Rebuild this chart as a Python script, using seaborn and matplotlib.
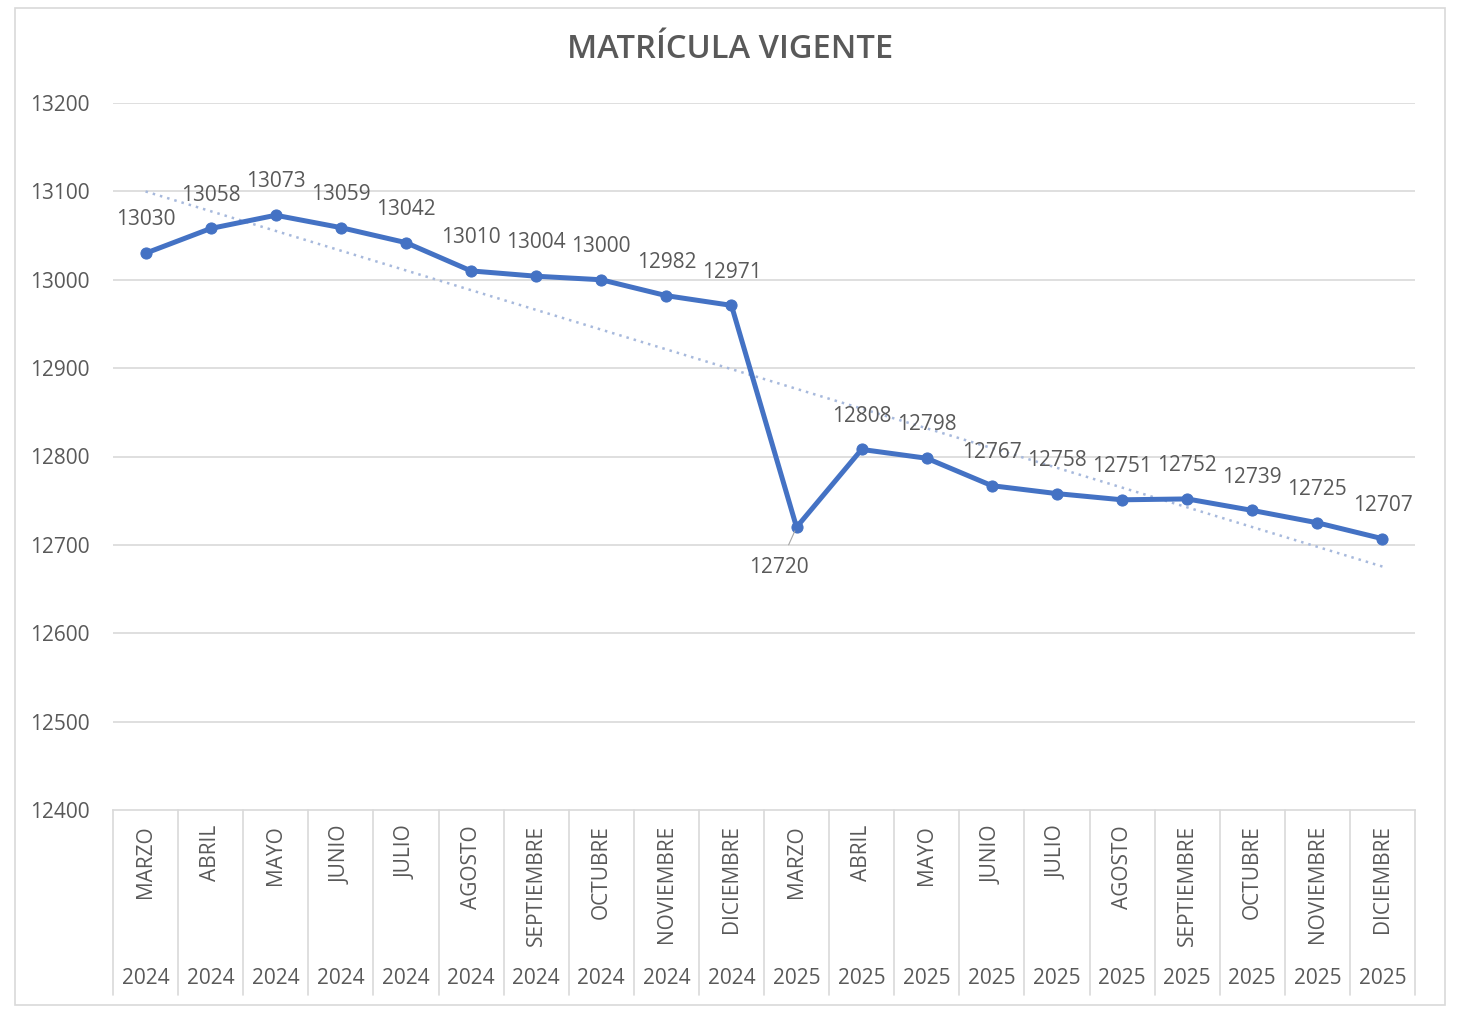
"""Matrícula vigente - line chart with linear trend, Excel style."""

import matplotlib

matplotlib.use("Agg")
import matplotlib.pyplot as plt
import matplotlib.transforms as mtransforms
from matplotlib.lines import Line2D
from matplotlib.patches import Rectangle
import numpy as np
import pandas as pd
import seaborn as sns

# ---------------------------------------------------------------------------
# Data
# ---------------------------------------------------------------------------

MONTHS = [
    "MARZO", "ABRIL", "MAYO", "JUNIO", "JULIO", "AGOSTO", "SEPTIEMBRE",
    "OCTUBRE", "NOVIEMBRE", "DICIEMBRE",
    "MARZO", "ABRIL", "MAYO", "JUNIO", "JULIO", "AGOSTO", "SEPTIEMBRE",
    "OCTUBRE", "NOVIEMBRE", "DICIEMBRE",
]
YEARS = ["2024"] * 10 + ["2025"] * 10
MATRICULA = [
    13030, 13058, 13073, 13059, 13042, 13010, 13004, 13000, 12982, 12971,
    12720, 12808, 12798, 12767, 12758, 12751, 12752, 12739, 12725, 12707,
]
Y_TICKS = [12400, 12500, 12600, 12700, 12800, 12900, 13000, 13100, 13200]

# ---------------------------------------------------------------------------
# Style
# ---------------------------------------------------------------------------

sns.set_style("white")
plt.rcParams["font.family"] = ["Open Sans", "DejaVu Sans"]

W, H = 1460, 1009
TEXT_GREY = "#595959"
GRID_GREY = "#D9D9D9"
LINE_BLUE = "#4472C4"
TREND_COLOUR = "#A7B9DC"
FS = 15


def plot_matricula() -> None:
    df = pd.DataFrame(
        {"pos": np.arange(len(MATRICULA)), "valor": MATRICULA,
         "mes": MONTHS, "anio": YEARS}
    )

    fig = plt.figure(figsize=(W / 100, H / 100), dpi=100)
    left, right, top, bottom = 113, 1415, 103, 810
    ax = fig.add_axes([left / W, 1 - bottom / H, (right - left) / W, (bottom - top) / H])

    # outer chart border
    fig.patches.append(
        Rectangle((15 / W, 1 - 1005 / H), (1445 - 15) / W, (1005 - 8) / H,
                  transform=fig.transFigure, fill=False,
                  edgecolor="#D9D9D9", linewidth=1.2)
    )

    # grid lines
    for yt in Y_TICKS[1:]:
        ax.axhline(yt, color=GRID_GREY, linewidth=1.2, zorder=0)

    # linear trend
    coef = np.polyfit(df["pos"], df["valor"], 1)
    trend = np.polyval(coef, df["pos"])
    ax.plot(df["pos"], trend, linestyle=(0, (1, 2)), color=TREND_COLOUR,
            linewidth=1.8, zorder=1)

    sns.lineplot(data=df, x="pos", y="valor", ax=ax, color=LINE_BLUE,
                 linewidth=3.6, marker="o", markersize=8,
                 markeredgecolor=LINE_BLUE, zorder=3)

    # data labels (the March 2025 dip is labelled below with a leader line)
    dip = df["valor"].iloc[:12].idxmin()
    for i, (x, v) in enumerate(zip(df["pos"], df["valor"])):
        if i == dip:
            ax.annotate(str(v), xy=(x, v), xytext=(-13, -29),
                        textcoords="offset points", ha="center", va="center",
                        fontsize=FS, color=TEXT_GREY,
                        arrowprops=dict(arrowstyle="-", color="#A6A6A6",
                                        linewidth=0.8, shrinkA=7, shrinkB=3))
        else:
            ax.annotate(str(v), xy=(x, v), xytext=(0, 24),
                        textcoords="offset points", ha="center", va="center",
                        fontsize=FS, color=TEXT_GREY)

    ax.set_xlim(-0.5, len(MATRICULA) - 0.5)
    ax.set_ylim(Y_TICKS[0], Y_TICKS[-1])
    ax.set_yticks(Y_TICKS)
    ax.set_yticklabels([str(t) for t in Y_TICKS], fontsize=FS, color=TEXT_GREY)
    ax.tick_params(axis="y", length=0, pad=17)
    ax.set_xticks([])
    ax.set_xlabel("")
    ax.set_ylabel("")
    for side in ["top", "right", "left"]:
        ax.spines[side].set_visible(False)
    ax.spines["bottom"].set_color(GRID_GREY)
    ax.spines["bottom"].set_linewidth(1.2)

    # multi-level category axis
    trans = mtransforms.blended_transform_factory(ax.transData, ax.transAxes)
    ax_h = bottom - top
    sep_end = -(995 - bottom) / ax_h
    for k in range(len(MATRICULA) + 1):
        ax.add_line(Line2D([k - 0.5, k - 0.5], [0, sep_end], transform=trans,
                           color=GRID_GREY, linewidth=1.2, clip_on=False))
    for x, mes, anio in zip(df["pos"], df["mes"], df["anio"]):
        ax.text(x, -(825 - bottom) / ax_h, mes, transform=trans, rotation=90,
                ha="center", va="top", fontsize=FS, color=TEXT_GREY)
        ax.text(x, -(978 - bottom) / ax_h, anio, transform=trans,
                ha="center", va="center", fontsize=FS, color=TEXT_GREY)

    fig.text(0.5, 1 - 50 / H, "MATRÍCULA VIGENTE", ha="center", va="center",
             fontsize=23.5, fontweight="semibold", color=TEXT_GREY)

    fig.savefig("out.png", dpi=100)
    plt.close(fig)


def main() -> None:
    plot_matricula()


if __name__ == "__main__":
    main()
